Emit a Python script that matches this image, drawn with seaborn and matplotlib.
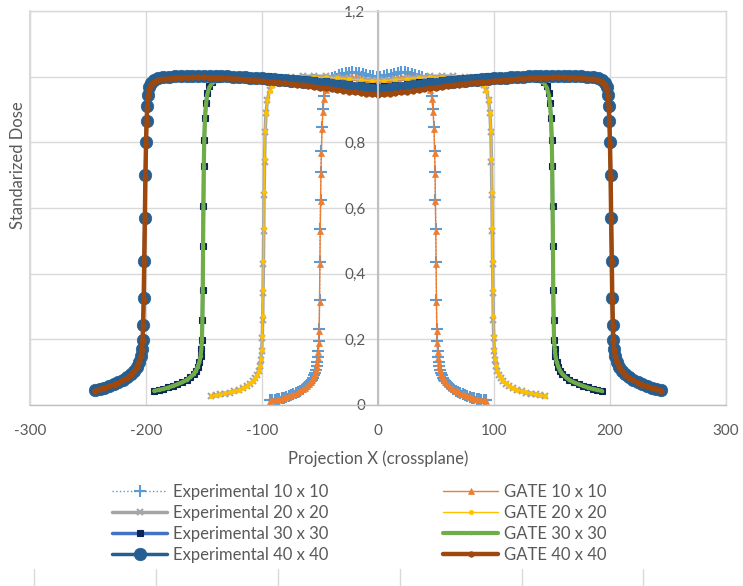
import matplotlib
matplotlib.use("Agg")
import matplotlib.pyplot as plt
from matplotlib.lines import Line2D
import seaborn as sns

# Projection X positions (mm) for each field size
x_10 = [-93, -91, -89, -87, -85, -83, -81, -79, -77, -75, -73, -71, -69, -67, -65, -63, -61,
        -59.5, -58, -57, -56, -55, -54, -53.3, -52.7, -52.2, -51.8, -51.4, -51, -50.7, -50.4,
        -50.1, -49.8, -49.5, -49.2, -48.8, -48.3, -47.5, -46.5, -45, -43,
        -40, -37, -34, -31, -28, -25, -22, -19, -16, -13, -10, -7, -4, -1,
        2, 5, 8, 11, 14, 17, 20, 23, 26, 29, 32, 35, 38, 41,
        43, 45, 46.5, 47.5, 48.3, 48.8, 49.2, 49.5, 49.8, 50.1, 50.4, 50.7, 51, 51.4, 51.8,
        52.2, 52.7, 53.3, 54, 55, 56, 57, 58, 59.5,
        61, 63, 65, 67, 69, 71, 73, 75, 77, 79, 81, 83, 85, 87, 89, 91, 93]
x_20 = [-144, -140, -136, -132, -128, -124, -120, -116, -113, -110, -108, -106, -104.5, -103,
        -102, -101, -100.3, -99.8, -99.4, -99.1, -98.8, -98.5, -98.2, -97.8, -97.3, -96.5,
        -95.3, -93.5, -91, -87, -82, -75, -65, -55, -45, -35, -25, -15, -5,
        5, 15, 25, 35, 45, 55, 65, 75, 82, 87, 91, 93.5, 95.3, 96.5, 97.3, 97.8, 98.2, 98.5,
        98.8, 99.1, 99.4, 99.8, 100.3, 101, 102, 103, 104.5, 106, 108, 110, 113, 116, 120,
        124, 128, 132, 136, 140, 144]
x_30 = [-193, -189, -185, -181, -177, -173, -169, -165, -162, -159, -157, -155.5, -154, -153,
        -152.3, -151.8, -151.4, -151.1, -150.8, -150.5, -150.2, -149.8, -149.2, -148.3,
        -147.2, -145.5, -143, -139, -134, -125, -115, -105, -95, -85, -75, -65, -55, -45,
        -35, -25, -15, -5,
        5, 15, 25, 35, 45, 55, 65, 75, 85, 95, 105, 115, 125, 134, 139, 143, 145.5, 147.2,
        148.3, 149.2, 149.8, 150.2, 150.5, 150.8, 151.1, 151.4, 151.8, 152.3, 153, 154, 155.5,
        157, 159, 162, 165, 169, 173, 177, 181, 185, 189, 193]
x_40 = [-244, -240, -236, -232, -228, -224, -220, -216, -213, -210, -208, -206, -204.5, -203.5,
        -203, -202.5, -202, -201.5, -201, -200.5, -200, -199.5, -199, -198, -197, -195.5,
        -193, -190, -185, -180,
        -175, -170, -165, -160, -155, -150, -145, -140, -135, -130, -125, -120, -115, -110,
        -105, -100, -95, -90, -85, -80, -75, -70, -65, -60, -55, -50, -45, -40, -35, -30,
        -25, -20, -15, -10, -5, 0,
        5, 10, 15, 20, 25, 30, 35, 40, 45, 50, 55, 60, 65, 70, 75, 80, 85, 90, 95, 100,
        105, 110, 115, 120, 125, 130, 135, 140, 145, 150, 155, 160, 165, 170, 175, 180,
        185, 190, 193, 195.5, 197, 198, 199, 199.5, 200, 200.5, 201, 201.5, 202, 202.5, 203,
        203.5, 204.5, 206, 208, 210, 213, 216, 220, 224, 228, 232, 236, 240, 244]

# Standardized dose values
exp_10 = [0.014, 0.015, 0.016, 0.017, 0.018, 0.020, 0.022, 0.024, 0.027, 0.030, 0.033, 0.036,
          0.040, 0.044, 0.049, 0.054, 0.060,
          0.066, 0.072, 0.077, 0.083, 0.090, 0.098, 0.107, 0.118, 0.130, 0.145, 0.165, 0.195,
          0.230, 0.320, 0.435, 0.535, 0.625, 0.710, 0.773, 0.846, 0.900, 0.940, 0.968, 0.985,
          0.995, 1.000, 1.004, 1.007, 1.010, 1.012, 1.013, 1.012, 1.010, 1.007, 1.005, 1.003,
          1.001, 1.000,
          1.000, 1.002, 1.004, 1.006, 1.009, 1.011, 1.013, 1.013, 1.011, 1.008, 1.005, 1.002,
          0.998, 0.993,
          0.985, 0.968, 0.940, 0.900, 0.846, 0.773, 0.710, 0.625, 0.535, 0.435, 0.320, 0.230,
          0.195, 0.165, 0.145, 0.130, 0.118, 0.107, 0.098, 0.090, 0.083, 0.077, 0.072, 0.066,
          0.060, 0.054, 0.049, 0.044, 0.040, 0.036, 0.033, 0.030, 0.027, 0.024, 0.022, 0.020,
          0.018, 0.017, 0.016, 0.015, 0.014]
gate_10 = [0.013, 0.014, 0.015, 0.016, 0.017, 0.019, 0.021, 0.023, 0.026, 0.029, 0.032, 0.035,
           0.039, 0.043, 0.048, 0.053, 0.059,
           0.065, 0.071, 0.076, 0.082, 0.089, 0.097, 0.106, 0.116, 0.128, 0.142, 0.162, 0.190,
           0.225, 0.314, 0.430, 0.530, 0.620, 0.705, 0.768, 0.840, 0.893, 0.932, 0.960, 0.977,
           0.987, 0.992, 0.995, 0.997, 0.998, 0.999, 0.999, 0.998, 0.996, 0.993, 0.990, 0.987,
           0.985, 0.984,
           0.984, 0.985, 0.987, 0.990, 0.993, 0.996, 0.998, 0.999, 0.999, 0.998, 0.997, 0.995,
           0.992, 0.987,
           0.977, 0.960, 0.932, 0.893, 0.840, 0.768, 0.705, 0.620, 0.530, 0.430, 0.314, 0.225,
           0.190, 0.162, 0.142, 0.128, 0.116, 0.106, 0.097, 0.089, 0.082, 0.076, 0.071, 0.065,
           0.059, 0.053, 0.048, 0.043, 0.039, 0.035, 0.032, 0.029, 0.026, 0.023, 0.021, 0.019,
           0.017, 0.016, 0.015, 0.014, 0.013]
exp_20 = [0.026, 0.029, 0.032, 0.035, 0.038, 0.042, 0.046, 0.052, 0.058, 0.065, 0.072, 0.081,
          0.091, 0.104, 0.118, 0.138, 0.165, 0.205, 0.26, 0.34, 0.43, 0.53, 0.64, 0.74, 0.83,
          0.89, 0.93, 0.958, 0.975, 0.986, 0.993, 0.998, 1.001, 1.002, 1.001, 0.999, 0.996,
          0.993, 0.990,
          0.990, 0.993, 0.996, 0.999, 1.001, 1.002, 1.001, 0.998, 0.993, 0.986, 0.975, 0.958,
          0.93, 0.89, 0.83, 0.74, 0.64, 0.53, 0.43, 0.34, 0.26, 0.205, 0.165, 0.138, 0.118,
          0.104, 0.091, 0.081, 0.072, 0.065, 0.058, 0.052, 0.046, 0.042, 0.038, 0.035, 0.032,
          0.029, 0.026]
gate_20 = [0.027, 0.030, 0.033, 0.036, 0.039, 0.043, 0.047, 0.053, 0.059, 0.066, 0.073, 0.082,
           0.092, 0.105, 0.120, 0.140, 0.168, 0.21, 0.27, 0.35, 0.44, 0.54, 0.65, 0.75, 0.835,
           0.89, 0.928, 0.955, 0.972, 0.983, 0.990, 0.995, 0.998, 0.999, 0.998, 0.996, 0.993,
           0.990, 0.987,
           0.988, 0.991, 0.994, 0.997, 0.999, 0.999, 0.998, 0.995, 0.990, 0.983, 0.972, 0.955,
           0.928, 0.89, 0.835, 0.75, 0.65, 0.54, 0.44, 0.35, 0.27, 0.21, 0.168, 0.140, 0.120,
           0.105, 0.092, 0.082, 0.073, 0.066, 0.059, 0.053, 0.047, 0.043, 0.039, 0.036, 0.033,
           0.030, 0.027]
exp_30 = [0.044, 0.047, 0.050, 0.054, 0.059, 0.064, 0.070, 0.077, 0.085, 0.095, 0.105, 0.117,
          0.132, 0.150, 0.172, 0.198, 0.259, 0.350, 0.484, 0.606, 0.728, 0.807, 0.874, 0.920,
          0.950, 0.972, 0.985, 0.993, 0.998, 1.002, 1.003, 1.003, 1.002, 1.000, 0.997, 0.994,
          0.990, 0.986, 0.982, 0.978, 0.974, 0.971,
          0.972, 0.975, 0.979, 0.983, 0.987, 0.991, 0.994, 0.997, 1.000, 1.002, 1.003, 1.003,
          1.002, 0.998, 0.993, 0.985, 0.972, 0.950, 0.920, 0.874, 0.807, 0.728, 0.606, 0.484,
          0.350, 0.259, 0.198, 0.172, 0.150, 0.132, 0.117, 0.105, 0.095, 0.085, 0.077, 0.070,
          0.064, 0.059, 0.054, 0.050, 0.047, 0.044]
gate_30 = [0.043, 0.046, 0.049, 0.053, 0.058, 0.063, 0.069, 0.076, 0.084, 0.094, 0.104, 0.116,
           0.131, 0.149, 0.171, 0.197, 0.257, 0.348, 0.482, 0.604, 0.726, 0.805, 0.870, 0.915,
           0.945, 0.967, 0.980, 0.988, 0.993, 0.997, 0.999, 0.999, 0.998, 0.996, 0.993, 0.990,
           0.986, 0.982, 0.978, 0.974, 0.970, 0.967,
           0.968, 0.971, 0.975, 0.979, 0.983, 0.987, 0.990, 0.993, 0.996, 0.998, 0.999, 0.999,
           0.997, 0.993, 0.988, 0.980, 0.967, 0.945, 0.915, 0.870, 0.805, 0.726, 0.604, 0.482,
           0.348, 0.257, 0.197, 0.171, 0.149, 0.131, 0.116, 0.104, 0.094, 0.084, 0.076, 0.069,
           0.063, 0.058, 0.053, 0.049, 0.046, 0.043]
exp_40 = [0.045, 0.049, 0.053, 0.058, 0.063, 0.069, 0.076, 0.085,
          0.094, 0.105, 0.117, 0.132, 0.150, 0.170, 0.198, 0.245, 0.325, 0.440, 0.570, 0.700,
          0.800, 0.865, 0.910, 0.945, 0.968, 0.982, 0.991, 0.995, 0.998, 1.000,
          1.001, 1.002, 1.003, 1.003, 1.003, 1.003, 1.002, 1.002, 1.001, 1.001,
          1.000, 0.999, 0.998, 0.997, 0.996, 0.995, 0.994, 0.993, 0.991, 0.990,
          0.988, 0.987, 0.985, 0.983, 0.981, 0.979, 0.977, 0.975, 0.973, 0.971,
          0.969, 0.967, 0.964, 0.962, 0.960, 0.958,
          0.960, 0.962, 0.964, 0.967, 0.969, 0.971, 0.973, 0.975, 0.977, 0.979,
          0.981, 0.983, 0.985, 0.987, 0.988, 0.990, 0.991, 0.993, 0.994, 0.995,
          0.996, 0.997, 0.998, 0.999, 1.000, 1.001, 1.001, 1.002, 1.002, 1.003,
          1.003, 1.003, 1.003, 1.002, 1.001, 1.000,
          0.998, 0.995, 0.991, 0.982, 0.968, 0.945, 0.910, 0.865, 0.800, 0.700, 0.570, 0.440,
          0.325, 0.245, 0.198, 0.170, 0.150, 0.132, 0.117, 0.105, 0.094, 0.085, 0.076, 0.069,
          0.063, 0.058, 0.053, 0.049, 0.045]
gate_40 = [0.044, 0.048, 0.052, 0.057, 0.062, 0.068, 0.075, 0.083,
           0.092, 0.103, 0.115, 0.130, 0.148, 0.168, 0.195, 0.240, 0.320, 0.435, 0.565, 0.695,
           0.795, 0.860, 0.905, 0.940, 0.962, 0.976, 0.985, 0.989, 0.992, 0.994,
           0.995, 0.996, 0.997, 0.998, 0.998, 0.998, 0.997, 0.997, 0.996, 0.995,
           0.994, 0.993, 0.991, 0.990, 0.988, 0.987, 0.985, 0.984, 0.982, 0.980,
           0.978, 0.976, 0.974, 0.972, 0.969, 0.967, 0.964, 0.962, 0.959, 0.957,
           0.954, 0.952, 0.950, 0.948, 0.946, 0.944,
           0.946, 0.948, 0.950, 0.952, 0.954, 0.957, 0.959, 0.962, 0.964, 0.967,
           0.969, 0.972, 0.974, 0.976, 0.978, 0.980, 0.982, 0.984, 0.985, 0.987,
           0.988, 0.990, 0.991, 0.993, 0.994, 0.995, 0.996, 0.997, 0.997, 0.998,
           0.998, 0.998, 0.997, 0.996, 0.995, 0.994,
           0.992, 0.989, 0.985, 0.976, 0.962, 0.940, 0.905, 0.860, 0.795, 0.695, 0.565, 0.435,
           0.320, 0.240, 0.195, 0.168, 0.148, 0.130, 0.115, 0.103, 0.092, 0.083, 0.075, 0.068,
           0.062, 0.057, 0.052, 0.048, 0.044]

x_ticks = [-300, -200, -100, 0, 100, 200, 300]
y_ticks = [0, 0.2, 0.4, 0.6, 0.8, 1.0, 1.2]
y_tick_labels = ["0", "0,2", "0,4", "0,6", "0,8", "1", "1,2"]

TEXT = "#595959"
GRID = "#D9D9D9"

sns.set_style("white")
plt.rcParams["font.family"] = ["Lato", "DejaVu Sans"]

# series in Excel plotting order (later ones drawn on top)
series = [
    ("Experimental 10 x 10", x_10, exp_10,
     dict(color="#5B9BD5", linewidth=1.0, linestyle=":", marker="+", markersize=8,
          markeredgecolor="#5B9BD5", markeredgewidth=1.5)),
    ("GATE 10 x 10", x_10, gate_10,
     dict(color="#ED7D31", linewidth=1.0, marker="^", markersize=5,
          markeredgecolor="#ED7D31", markerfacecolor="#ED7D31", markeredgewidth=0.5)),
    ("Experimental 20 x 20", x_20, exp_20,
     dict(color="#A5A5A5", linewidth=2.5, marker="x", markersize=4,
          markeredgecolor="#A5A5A5", markeredgewidth=1.5)),
    ("GATE 20 x 20", x_20, gate_20,
     dict(color="#FFC000", linewidth=1.0, marker="o", markersize=3,
          markeredgecolor="#FFC000", markerfacecolor="#FFC000", markeredgewidth=0.5)),
    ("Experimental 30 x 30", x_30, exp_30,
     dict(color="#4472C4", linewidth=2.5, marker="s", markersize=5,
          markeredgecolor="#0B2559", markerfacecolor="#0B2559", markeredgewidth=0.8)),
    ("GATE 30 x 30", x_30, gate_30,
     dict(color="#70AD47", linewidth=3.0, marker="o", markersize=2,
          markeredgecolor="#70AD47", markerfacecolor="#70AD47", markeredgewidth=0.5)),
    ("Experimental 40 x 40", x_40, exp_40,
     dict(color="#255E91", linewidth=2.5, marker="o", markersize=9,
          markeredgecolor="#255E91", markerfacecolor="#255E91", markeredgewidth=0.5)),
    ("GATE 40 x 40", x_40, gate_40,
     dict(color="#9E480E", linewidth=3.2, marker="o", markersize=4,
          markeredgecolor="#9E480E", markerfacecolor="#9E480E", markeredgewidth=0.5)),
]

fig = plt.figure(figsize=(7.43, 5.86), dpi=100)
ax = fig.add_axes([30 / 743, 1 - 405 / 586, 696 / 743, 394 / 586])

for label, xs, ys, style in series:
    sns.lineplot(x=xs, y=ys, ax=ax, label=label, estimator=None, sort=False, **style)

ax.set_xlim(-300, 300)
ax.set_ylim(0, 1.2)
ax.set_xticks(x_ticks)
ax.set_xticklabels([str(v) for v in x_ticks])
ax.set_yticks(y_ticks)
ax.set_yticklabels(y_tick_labels)
ax.set_axisbelow(True)
ax.grid(True, color=GRID, linewidth=1.0)
ax.axvline(-300, color=GRID, linewidth=1.5, clip_on=False, zorder=0.4)

for side in ["top", "right", "bottom"]:
    ax.spines[side].set_color(GRID)
    ax.spines[side].set_linewidth(1.0)
ax.spines["left"].set_position(("data", 0))
ax.spines["left"].set_color("#BFBFBF")
ax.spines["left"].set_linewidth(1.5)
ax.spines["bottom"].set_color("#BFBFBF")

ax.tick_params(axis="both", length=0, colors=TEXT, labelsize=11)
ax.tick_params(axis="x", pad=14)
ax.tick_params(axis="y", pad=9)
ax.set_xlabel("")
ax.set_ylabel("")

fig.text(378 / 743, 1 - 459 / 586, "Projection X (crossplane)", ha="center", va="center",
         fontsize=12, color=TEXT)
fig.text(18 / 743, 1 - 165 / 586, "Standarized Dose", ha="center", va="center",
         rotation=90, fontsize=12, color=TEXT)

# legend: experimental in first column, GATE in second
handles, labels = ax.get_legend_handles_labels()
ax.get_legend().remove()
order = [0, 2, 4, 6, 1, 3, 5, 7]
fig.legend([handles[i] for i in order], [labels[i] for i in order], ncol=2,
           loc="upper left", bbox_to_anchor=(112 / 743, 1 - 484 / 586), frameon=False,
           fontsize=12, handlelength=3.3, handletextpad=0.36, columnspacing=6.9,
           labelspacing=0.3, borderpad=0, borderaxespad=0, labelcolor=TEXT)

# tick marks of the chart below, cut off at the bottom edge
for px in [34, 156, 278, 400, 522, 643]:
    fig.add_artist(Line2D([px / 743, px / 743], [0, 17 / 586], transform=fig.transFigure,
                          color=GRID, linewidth=1.0))

fig.savefig("out.png", dpi=100, facecolor="white")
